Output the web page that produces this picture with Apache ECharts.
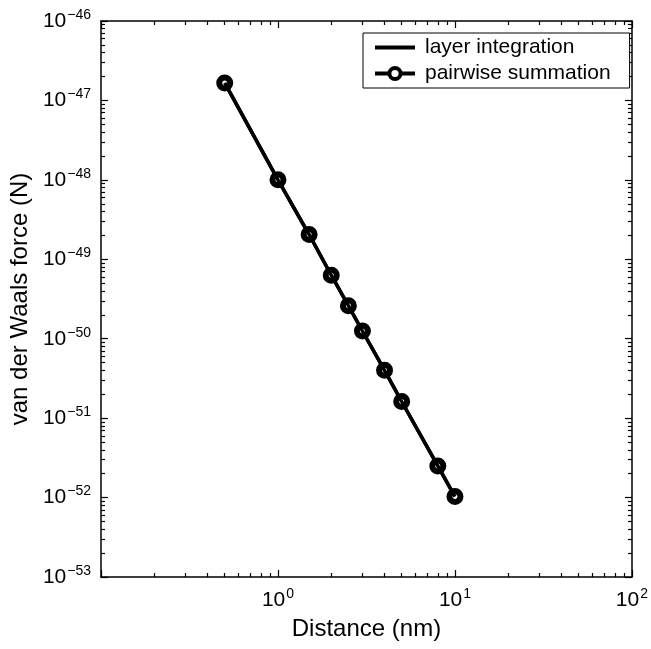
<!DOCTYPE html>
<html>
<head>
<meta charset="utf-8">
<script src="https://cdn.jsdelivr.net/npm/echarts@6/dist/echarts.min.js"></script>
<style>
html,body{margin:0;padding:0;background:#fff;}
#chart{width:651px;height:649px;}
</style>
</head>
<body>
<div id="chart"></div>
<script>
// ---- data ----
var distance = [0.5, 1, 1.5, 2, 2.5, 3, 4, 5, 8, 10];
var layerForce = [1.66e-47, 1.0e-48, 2.05e-49, 6.3e-50, 2.6e-50, 1.25e-50, 4.0e-51, 1.62e-51, 2.5e-52, 1.03e-52];
var pairwiseForce = [1.66e-47, 1.0e-48, 2.05e-49, 6.3e-50, 2.6e-50, 1.25e-50, 4.0e-51, 1.62e-51, 2.5e-52, 1.03e-52];
var seriesNames = ['layer integration', 'pairwise summation'];

var xMajorTicks = [0.1, 1, 10, 100];
var xMinorTicks = [0.2,0.3,0.4,0.5,0.6,0.7,0.8,0.9, 2,3,4,5,6,7,8,9, 20,30,40,50,60,70,80,90];
var xTickLabels = [1, 10, 100];
var yDecades = [-53, -52, -51, -50, -49, -48, -47, -46];   // exponents of the major y ticks
var yMinorMultipliers = [2,3,4,5,6,7,8,9];
var yTickLabelDecades = [-53, -52, -51, -50, -49, -48, -47, -46];

// ---- build ----
// The y range (1e-53..1e-46) is below ECharts' rounding precision for 'log' axes,
// so the y axis is a linear axis over log10(force).
var yMinorTicks = [];
for (var i = 0; i < yDecades.length - 1; i++) {
  yMinorMultipliers.forEach(function (m) { yMinorTicks.push(yDecades[i] + Math.log10(m)); });
}
function zipLog(xs, ys) { return xs.map(function (x, i) { return [x, Math.log10(ys[i])]; }); }

var FONT = '"Liberation Sans", Arial, Helvetica, sans-serif';
function supText(e) { return e < 0 ? '\u2212' + (-e) : String(e); }
function xLabel(v) { return '{b|10}{s|' + supText(Math.round(Math.log10(v))) + '}'; }
function yLabel(v) { return '{b|10}{s|' + supText(Math.round(v)) + '}'; }
var richLabel = {
  b: { fontSize: 21, fontFamily: FONT, color: '#000' },
  s: { fontSize: 14, fontFamily: FONT, color: '#000', padding: [0, 0, 12, 1] }
};
var axisLineStyle = { color: '#000', width: 1.5 };

function mkAxis(opts) {
  var a = {
    type: opts.type,
    min: opts.min, max: opts.max,
    position: opts.position,
    splitLine: { show: false },
    axisLine: { show: opts.line, onZero: false, lineStyle: axisLineStyle },
    axisTick: { show: true, inside: true, length: opts.len, customValues: opts.ticks, lineStyle: { color: '#000', width: 1.2 } },
    axisLabel: { show: false },
    axisPointer: { show: false },
    silent: true
  };
  if (opts.type === 'log') a.logBase = 10;
  return a;
}

var xAxes = [
  mkAxis({ type: 'log', min: 0.1, max: 100, position: 'bottom', line: true, len: 7, ticks: xMajorTicks }),
  mkAxis({ type: 'log', min: 0.1, max: 100, position: 'bottom', line: false, len: 4, ticks: xMinorTicks }),
  mkAxis({ type: 'log', min: 0.1, max: 100, position: 'top', line: true, len: 7, ticks: xMajorTicks }),
  mkAxis({ type: 'log', min: 0.1, max: 100, position: 'top', line: false, len: 4, ticks: xMinorTicks })
];
xAxes[0].axisLabel = { show: true, customValues: xTickLabels, margin: 10, formatter: xLabel, rich: richLabel };
xAxes[0].name = 'Distance (nm)';
xAxes[0].nameLocation = 'middle';
xAxes[0].nameGap = 40;
xAxes[0].nameTextStyle = { fontSize: 24, fontFamily: FONT, color: '#000' };

var yMin = yDecades[0], yMax = yDecades[yDecades.length - 1];
var yAxes = [
  mkAxis({ type: 'value', min: yMin, max: yMax, position: 'left', line: true, len: 7, ticks: yDecades }),
  mkAxis({ type: 'value', min: yMin, max: yMax, position: 'left', line: false, len: 4, ticks: yMinorTicks }),
  mkAxis({ type: 'value', min: yMin, max: yMax, position: 'right', line: true, len: 7, ticks: yDecades }),
  mkAxis({ type: 'value', min: yMin, max: yMax, position: 'right', line: false, len: 4, ticks: yMinorTicks })
];
yAxes[0].axisLabel = { show: true, customValues: yTickLabelDecades, margin: 10, formatter: yLabel, rich: richLabel };
yAxes[0].name = 'van der Waals force (N)';
yAxes[0].nameLocation = 'middle';
yAxes[0].nameGap = 55;
yAxes[0].nameTextStyle = { fontSize: 24, fontFamily: FONT, color: '#000' };

var chart = echarts.init(document.getElementById('chart'), null, { renderer: 'canvas' });
chart.setOption({
  animation: false,
  backgroundColor: '#fff',
  grid: { left: 96, right: 14, top: 21, bottom: 72, containLabel: false },
  legend: {
    data: [
      { name: seriesNames[0], itemStyle: { opacity: 0 } },
      { name: seriesNames[1], itemStyle: { color: '#fff', borderColor: '#000', borderWidth: 4 } }
    ],
    orient: 'vertical',
    left: 363, top: 33,
    padding: [4, 19, 4, 10],
    itemGap: 5,
    itemWidth: 40, itemHeight: 14,
    borderColor: '#000', borderWidth: 1, borderRadius: 0,
    backgroundColor: '#fff',
    lineStyle: { color: '#000', width: 4 },
    textStyle: { fontSize: 21, fontFamily: FONT, color: '#000', lineHeight: 20, padding: [0, 0, 0, 5] },
    selectedMode: false
  },
  xAxis: xAxes,
  yAxis: yAxes,
  series: [
    {
      name: seriesNames[1], type: 'line', z: 2,
      xAxisIndex: 0, yAxisIndex: 0,
      data: zipLog(distance, pairwiseForce),
      symbol: 'circle', symbolSize: 11, showSymbol: true,
      itemStyle: { color: '#fff', borderColor: '#000', borderWidth: 6 },
      lineStyle: { color: '#000', width: 3.5 },
      emphasis: { disabled: true }
    },
    {
      name: seriesNames[0], type: 'line', z: 3,
      xAxisIndex: 0, yAxisIndex: 0,
      data: zipLog(distance, layerForce),
      symbol: 'none', showSymbol: false,
      itemStyle: { color: '#000', opacity: 0 },
      lineStyle: { color: '#000', width: 3.5 },
      emphasis: { disabled: true }
    }
  ]
});
</script>
</body>
</html>
